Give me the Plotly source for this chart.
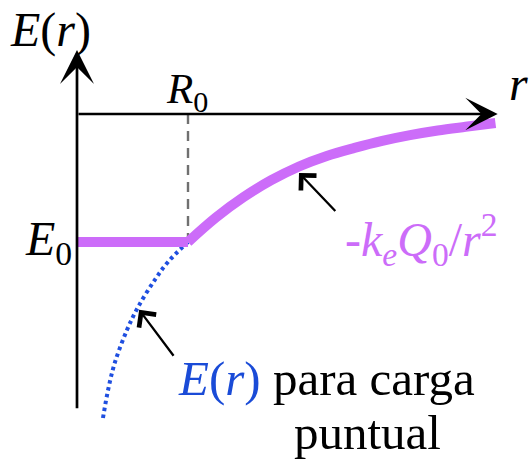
import plotly.graph_objects as go

# Field inside and outside the charged region (R0 = 1, E0 = -1 units)
r_inside = [0.0, 1.0]
e_inside = [-1.0, -1.0]

r_outside = [1.0, 1.25, 1.5, 1.75, 2.0, 2.25, 2.5, 2.75, 3.0, 3.25, 3.5, 3.77]
e_outside = [-1.0, -0.81, -0.65, -0.5175, -0.41, -0.3275, -0.265, -0.21, -0.165, -0.129, -0.10, -0.07]

# Point-charge field continued inside R0
r_point = [1.0, 0.82, 0.70, 0.55, 0.45, 0.34, 0.28, 0.234]
e_point = [-1.0, -1.156, -1.297, -1.508, -1.688, -1.945, -2.156, -2.375]

R0 = 1.0
E0 = -1.0
r_axis_end = 3.79
e_axis_top = 0.5
e_axis_bottom = -2.31

PURPLE = "#CC6CF9"
BLUE = "#1F4FE0"
BLUE_TEXT = "#1A4BD7"
FONT = "Liberation Serif"

fig = go.Figure()

# dashed guide at R0
fig.add_trace(go.Scatter(x=[R0, R0], y=[0, E0 + 0.04], mode="lines",
                         line=dict(color="#707070", width=2.4, dash="10px,7px"),
                         hoverinfo="skip"))
# point-charge curve (dotted)
fig.add_trace(go.Scatter(x=r_point, y=e_point, mode="lines",
                         line=dict(color=BLUE, width=4, dash="3.5px,3.5px", shape="spline"),
                         hoverinfo="skip"))
# actual field
fig.add_trace(go.Scatter(x=r_inside, y=e_inside, mode="lines",
                         line=dict(color=PURPLE, width=10), hoverinfo="skip"))
fig.add_trace(go.Scatter(x=r_outside, y=e_outside, mode="lines",
                         line=dict(color=PURPLE, width=10, shape="spline"),
                         hoverinfo="skip"))


def arrow(x, y, ax, ay, head, width, size):
    fig.add_annotation(x=x, y=y, ax=ax, ay=ay, xref="x", yref="y",
                       axref="x", ayref="y", text="", showarrow=True,
                       arrowhead=head, arrowwidth=width, arrowsize=size,
                       arrowcolor="black", standoff=0)


# axes with arrowheads
arrow(0, e_axis_top, 0, e_axis_bottom, 3, 2.7, 2.1)
arrow(r_axis_end, 0, 0, 0, 3, 2.7, 2.0)
# pointer arrows
arrow(2.0, -0.46, 2.34, -0.77, 4, 2.3, 1.8)
arrow(0.56, -1.53, 0.88, -1.9, 4, 2.3, 1.8)


def label(text, x, y, xanchor="center", size=48, color="black"):
    fig.add_annotation(x=x, y=y, xref="x", yref="y", text=text, showarrow=False,
                       xanchor=xanchor, yanchor="middle",
                       font=dict(family=FONT, size=size, color=color))


label("<i>E</i>(<i>r</i>)", -0.243, 0.66)
label("<i>r</i>", 3.98, 0.24)
label("<i>R</i><sub>0</sub>", 0.99, 0.17, size=43)
label("<i>E</i><sub>0</sub>", -0.03, -1.0, xanchor="right")
label("-<i>k</i><sub><i>e</i></sub><i>Q</i><sub>0</sub>/<i>r</i><sup>2</sup>",
      2.40, -0.98, xanchor="left", color=PURPLE)
label(f"<span style='color:{BLUE_TEXT}'><i>E</i>(<i>r</i>)</span> para carga",
      0.89, -2.07, xanchor="left", size=49)
label("puntual", 1.94, -2.49, xanchor="left", size=49)

fig.update_layout(
    width=529, height=463,
    margin=dict(l=0, r=0, t=0, b=0),
    paper_bgcolor="white", plot_bgcolor="white",
    showlegend=False,
    font=dict(family=FONT, size=48, color="black"),
    xaxis=dict(range=[-77 / 111, 452 / 111], visible=False, fixedrange=True),
    yaxis=dict(range=[-349 / 128, 114 / 128], visible=False, fixedrange=True),
)

fig.write_html("out.html")
